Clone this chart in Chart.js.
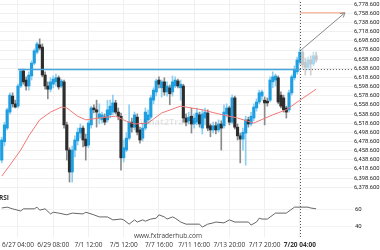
<!DOCTYPE html>
<html>
<head>
<meta charset="utf-8">
<script src="https://cdn.jsdelivr.net/npm/chart.js@4.4.0/dist/chart.umd.min.js"></script>
<style>
    html, body { margin: 0; padding: 0; background: #fff; }
</style>
</head>
<body>
<canvas id="fxChart" width="380" height="250"></canvas>
<script>
// H4 candles (index 0 = first candle on the left)
var open = [6438, 6478, 6508, 6543, 6578, 6561, 6556, 6600, 6633, 6613,
    6600, 6622, 6650, 6674, 6690, 6685, 6624, 6600, 6593, 6604,
    6609, 6618, 6600, 6609, 6515, 6460, 6412, 6460, 6480, 6497,
    6508, 6484, 6471, 6515, 6552, 6548, 6530, 6526, 6532, 6526,
    6537, 6543, 6563, 6543, 6534, 6443, 6460, 6486, 6521, 6510,
    6532, 6504, 6486, 6508, 6526, 6532, 6569, 6587, 6613, 6596,
    6609, 6587, 6596, 6587, 6600, 6611, 6596, 6600, 6530, 6524,
    6534, 6517, 6521, 6537, 6508, 6530, 6541, 6513, 6504, 6513,
    6504, 6517, 6513, 6539, 6552, 6521, 6574, 6510, 6491, 6484,
    6497, 6526, 6517, 6530, 6552, 6565, 6578, 6569, 6567, 6569,
    6609, 6613, 6618, 6580, 6574, 6552, 6548, 6585, 6618, 6631,
    6652, 6674, 6652, 6641, 6657, 6648, 6666];
var close = [6482, 6515, 6548, 6580, 6561, 6554, 6600, 6633, 6609, 6600,
    6624, 6650, 6677, 6692, 6683, 6624, 6600, 6593, 6609, 6615,
    6618, 6598, 6611, 6515, 6460, 6412, 6460, 6482, 6499, 6508,
    6482, 6469, 6519, 6552, 6548, 6543, 6539, 6537, 6521, 6548,
    6556, 6563, 6543, 6534, 6443, 6465, 6486, 6521, 6510, 6537,
    6499, 6482, 6508, 6543, 6537, 6574, 6591, 6611, 6604, 6609,
    6587, 6600, 6583, 6609, 6613, 6600, 6604, 6530, 6521, 6532,
    6517, 6530, 6541, 6517, 6539, 6543, 6508, 6504, 6513, 6504,
    6517, 6508, 6543, 6552, 6521, 6574, 6510, 6491, 6484, 6499,
    6526, 6517, 6534, 6554, 6565, 6585, 6587, 6563, 6563, 6613,
    6620, 6622, 6565, 6556, 6548, 6543, 6585, 6620, 6635, 6657,
    6674, 6646, 6641, 6657, 6648, 6666, 6657];
var high = [6488, 6521, 6552, 6585, 6585, 6569, 6604, 6637, 6637, 6620,
    6631, 6655, 6681, 6696, 6703, 6692, 6631, 6609, 6618, 6622,
    6626, 6622, 6615, 6613, 6521, 6465, 6469, 6491, 6508, 6517,
    6513, 6495, 6524, 6556, 6559, 6569, 6561, 6543, 6539, 6569,
    6569, 6580, 6569, 6552, 6541, 6482, 6499, 6559, 6530, 6543,
    6539, 6510, 6517, 6552, 6548, 6580, 6596, 6615, 6620, 6613,
    6618, 6609, 6602, 6622, 6620, 6615, 6613, 6604, 6539, 6543,
    6552, 6539, 6552, 6543, 6548, 6552, 6548, 6517, 6521, 6521,
    6526, 6524, 6559, 6561, 6556, 6580, 6578, 6517, 6497, 6508,
    6534, 6532, 6543, 6561, 6572, 6591, 6591, 6576, 6574, 6620,
    6631, 6626, 6622, 6587, 6580, 6556, 6591, 6624, 6644, 6663,
    6681, 6679, 6661, 6663, 6666, 6674, 6674];
var low = [6432, 6469, 6504, 6539, 6554, 6552, 6552, 6596, 6604, 6591,
    6591, 6613, 6646, 6670, 6679, 6620, 6593, 6572, 6587, 6596,
    6600, 6593, 6596, 6508, 6438, 6390, 6390, 6445, 6471, 6486,
    6467, 6438, 6465, 6508, 6541, 6510, 6517, 6519, 6515, 6521,
    6530, 6537, 6539, 6526, 6416, 6434, 6456, 6482, 6499, 6504,
    6493, 6475, 6480, 6504, 6517, 6528, 6561, 6578, 6596, 6576,
    6580, 6578, 6559, 6578, 6596, 6596, 6569, 6521, 6513, 6517,
    6497, 6508, 6515, 6510, 6495, 6515, 6502, 6489, 6497, 6495,
    6499, 6460, 6508, 6532, 6515, 6517, 6506, 6482, 6432, 6460,
    6427, 6510, 6513, 6524, 6545, 6561, 6569, 6515, 6556, 6565,
    6596, 6600, 6561, 6552, 6543, 6530, 6543, 6580, 6613, 6626,
    6648, 6639, 6624, 6635, 6624, 6644, 6652];

// moving average (red) and RSI, read at these candle indexes
var maAt = [0, 3, 7, 10, 14, 18, 22, 24, 28, 31, 36, 42, 46, 49, 54, 59, 66, 68, 74, 80, 87, 93, 100, 105, 110, 116];
var maVal = [6403, 6427, 6460, 6491, 6526, 6543, 6554, 6552, 6534, 6526, 6530, 6534, 6523, 6517, 6519, 6541, 6556, 6554, 6548, 6539, 6530, 6519, 6537, 6548, 6569, 6593];
var rsiAt = [0, 2, 4, 7, 8, 12, 13, 14, 16, 18, 19, 21, 24, 26, 30, 31, 34, 36, 39, 41, 44, 45, 47, 48, 49, 50, 52, 53, 55, 57,
    58, 60, 61, 63, 64, 66, 68, 73, 74, 76, 78, 79, 82, 84, 86, 89, 91, 92, 94, 95, 96, 98, 101, 105, 108, 113, 114, 116];
var rsiVal = [62, 63, 61, 58.5, 61, 61, 63, 59.5, 61, 55, 57, 56, 54, 56, 55, 57, 54, 51.5, 51.5, 48, 49, 48, 43, 45.5, 48, 45.5, 48, 46.5, 49, 50,
    54, 51.5, 49, 51.5, 50, 45.5, 43, 43, 39.5, 43, 44.5, 45.5, 44.5, 48, 45.5, 45.5, 45.5, 42, 45.5, 50, 49, 49, 56, 56, 63, 63, 62, 61];

// axis ticks
var timeTickAt = [6, 19, 32, 45, 58, 71, 84, 97, 110];
var timeLabels = ["6/27 04:00", "6/29 08:00", "7/1 12:00", "7/5 12:00", "7/7 16:00", "7/11 16:00", "7/13 20:00", "7/17 20:00", "7/20 04:00"];
var priceTicks = [6378.6, 6398.6, 6418.6, 6438.6, 6458.6, 6478.6, 6498.6, 6518.6, 6538.6, 6558.6, 6578.6,
    6598.6, 6618.6, 6638.6, 6658.6, 6678.6, 6698.6, 6718.6, 6738.6, 6758.6, 6778.6];
var rsiTicks = [40, 60];

// pattern levels
var supportLevel = 6636;
var supportFrom = 6;
var signalAt = 110;
var targetLevel = 6760;
var targetEnd = 126.6;
var arrowFrom = 110.5;
var arrowFromPrice = 6679;

var xMin = -0.64, xMax = 129.6;

var candleIdx = open.map(function (v, i) { return i; });
function isUp(i) { return close[i] >= open[i]; }

function bodyColor(ctx) {
    var i = ctx.dataIndex;
    if (i > signalAt) return isUp(i) ? '#a6d8f3' : '#c6c6c6';
    return isUp(i) ? '#1f9fe2' : '#2d2d2d';
}
function wickColor(ctx) {
    var i = ctx.dataIndex;
    if (i > signalAt) return isUp(i) ? '#bfe3f6' : '#cfcfcf';
    return isUp(i) ? '#8ccff1' : '#8a8a8a';
}

function lineSet(points, color, width, dash, order, axis) {
    return {
        type: 'line',
        data: points,
        borderColor: color,
        borderWidth: width,
        borderDash: dash || [],
        pointRadius: 0,
        tension: 0,
        fill: false,
        order: order,
        yAxisID: axis || 'y'
    };
}

var overlay = {
    id: 'overlay',
    afterDatasetsDraw: function (chart) {
        var c = chart.ctx, a = chart.chartArea;
        var xs = chart.scales.x, ys = chart.scales.y, rs = chart.scales.yRsi;
        c.save();
        // signal time
        var sx = Math.round(xs.getPixelForValue(signalAt)) + 0.5;
        c.strokeStyle = '#555';
        c.lineWidth = 1;
        c.setLineDash([1, 2]);
        c.beginPath();
        c.moveTo(sx, a.top + 2);
        c.lineTo(sx, a.bottom + 1);
        c.stroke();
        c.setLineDash([]);

        // arrow head
        var x1 = xs.getPixelForValue(arrowFrom), y1 = ys.getPixelForValue(arrowFromPrice);
        var x2 = xs.getPixelForValue(targetEnd), y2 = ys.getPixelForValue(targetLevel);
        var ang = Math.atan2(y2 - y1, x2 - x1);
        c.strokeStyle = '#888';
        c.beginPath();
        c.moveTo(x2 - 5 * Math.cos(ang - 0.55), y2 - 5 * Math.sin(ang - 0.55));
        c.lineTo(x2, y2);
        c.lineTo(x2 - 5 * Math.cos(ang + 0.55), y2 - 5 * Math.sin(ang + 0.55));
        c.stroke();

        // watermark + panel label
        c.textBaseline = 'middle';
        c.fillStyle = 'rgba(0,0,0,0.10)';
        c.font = 'bold 9px "Open Sans"';
        c.textAlign = 'left';
        c.fillText('What2Trade', 140, 122);
        c.fillStyle = '#333';
        c.font = 'bold 6.5px "Open Sans"';
        c.fillText('RSI', -1, rs.top + 6);
        c.fillStyle = '#444';
        c.font = '6.5px "Open Sans"';
        c.textAlign = 'center';
        c.fillText('www.fxtraderhub.com', 168, 236);
        c.restore();
    }
};

new Chart(document.getElementById('fxChart').getContext('2d'), {
    type: 'bar',
    data: {
        datasets: [
            {
                type: 'bar',
                data: candleIdx.map(function (i) { return { x: i, y: [low[i], high[i]] }; }),
                backgroundColor: wickColor,
                barThickness: 1,
                grouped: false,
                order: 5,
                yAxisID: 'y'
            },
            {
                type: 'bar',
                data: candleIdx.map(function (i) { return { x: i, y: [open[i], close[i]] }; }),
                backgroundColor: bodyColor,
                barThickness: 2.5,
                grouped: false,
                order: 4,
                yAxisID: 'y'
            },
            lineSet(maAt.map(function (k, j) { return { x: k, y: maVal[j] }; }), '#f27878', 1, null, 3),
            lineSet(rsiAt.map(function (k, j) { return { x: k, y: rsiVal[j] }; }), '#666', 1, null, 3, 'yRsi'),
            lineSet([{ x: supportFrom, y: supportLevel }, { x: signalAt, y: supportLevel }], '#45a5dc', 1.5, null, 1),
            lineSet([{ x: signalAt, y: supportLevel }, { x: xMax, y: supportLevel }], '#555', 1, [1, 2], 1),
            lineSet([{ x: signalAt, y: targetLevel }, { x: targetEnd, y: targetLevel }], '#f4a07c', 1, null, 1),
            lineSet([{ x: arrowFrom, y: arrowFromPrice }, { x: targetEnd, y: targetLevel }], '#888', 1, null, 1)
        ]
    },
    options: {
        responsive: false,
        animation: false,
        layout: { padding: 0 },
        plugins: { legend: { display: false }, tooltip: { enabled: false } },
        scales: {
            x: {
                type: 'linear',
                min: xMin,
                max: xMax,
                offset: false,
                grid: { offset: false, color: '#f0f0f0', drawTicks: false },
                border: { display: false },
                afterBuildTicks: function (s) {
                    s.ticks = timeTickAt.map(function (v) { return { value: v }; });
                },
                afterFit: function (s) { s.height = 13; s.paddingLeft = 0; s.paddingRight = 0; },
                ticks: {
                    padding: 4,
                    autoSkip: false,
                    maxRotation: 0,
                    color: '#333',
                    font: function (c) {
                        var last = c.tick && c.tick.value === signalAt;
                        return { family: 'Open Sans', size: 6.5, weight: last ? 'bold' : 'normal' };
                    },
                    callback: function (v) { return timeLabels[timeTickAt.indexOf(v)]; }
                }
            },
            y: {
                type: 'linear',
                axis: 'y',
                position: 'right',
                stack: 'panes',
                stackWeight: 192,
                min: 6368.3,
                max: 6788,
                grid: { color: '#f0f0f0', drawTicks: false },
                border: { display: false },
                afterBuildTicks: function (s) {
                    s.ticks = priceTicks.map(function (v) { return { value: v }; });
                },
                afterFit: function (s) { s.width = 27; s.paddingTop = 0; s.paddingBottom = 0; },
                ticks: {
                    padding: 1,
                    autoSkip: false,
                    color: '#222',
                    font: { family: 'Roboto', size: 5.8 },
                    callback: function (v) {
                        return v.toLocaleString('en-US', { minimumFractionDigits: 3, maximumFractionDigits: 3 });
                    }
                }
            },
            yRsi: {
                type: 'linear',
                axis: 'y',
                position: 'right',
                stack: 'panes',
                stackWeight: 45,
                min: 27.9,
                max: 80.8,
                grid: { color: '#f3f3f3', drawTicks: false },
                border: { display: false },
                afterBuildTicks: function (s) {
                    s.ticks = rsiTicks.map(function (v) { return { value: v }; });
                },
                afterFit: function (s) { s.width = 27; s.paddingTop = 0; s.paddingBottom = 0; },
                ticks: {
                    padding: 2,
                    autoSkip: false,
                    color: '#222',
                    font: { family: 'Roboto', size: 6 }
                }
            }
        }
    },
    plugins: [overlay]
});
</script>
</body>
</html>
